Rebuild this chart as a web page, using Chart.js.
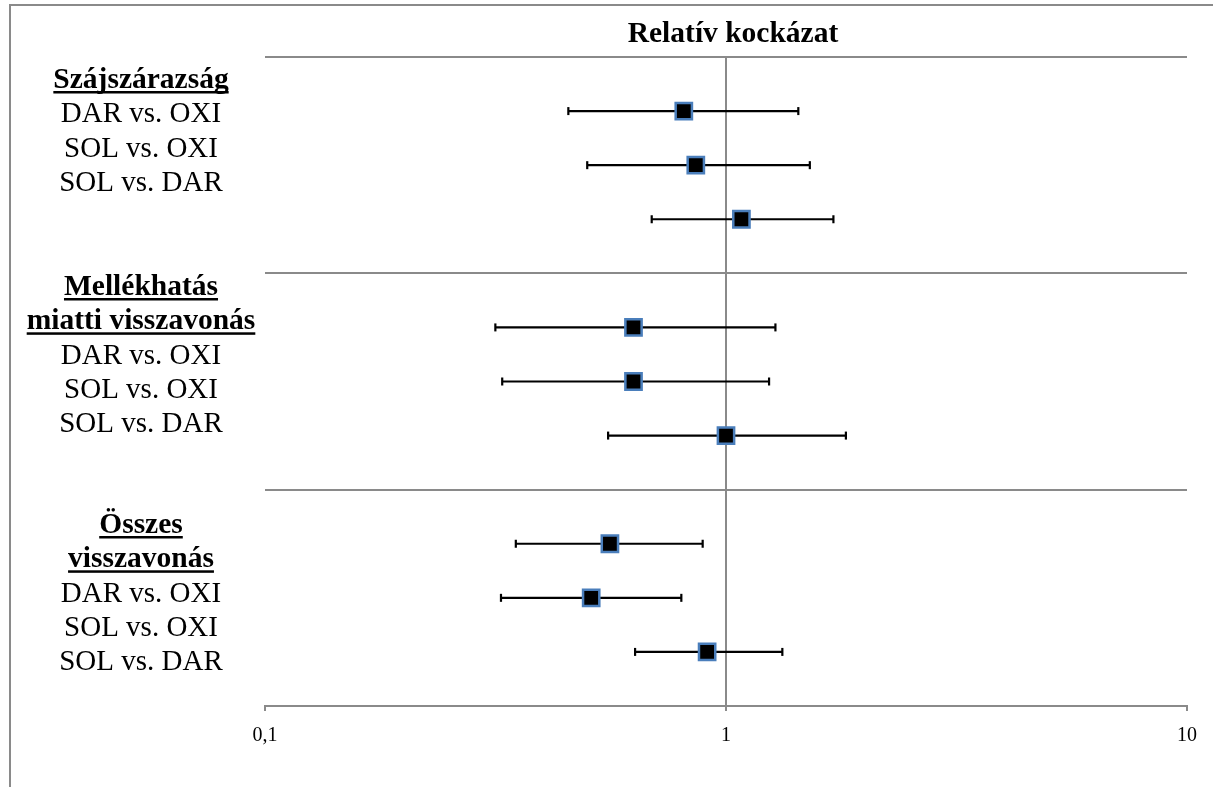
<!DOCTYPE html>
<html><head><meta charset="utf-8">
<script src="https://cdn.jsdelivr.net/npm/chart.js@4.4.1/dist/chart.umd.min.js"></script>
<style>html,body{margin:0;padding:0;background:#fff;} #wrap{position:relative;width:1213px;height:787px;}</style>
</head><body><div id="wrap"><canvas id="c" width="1213" height="787"></canvas></div>
<script>
const chartTitle = 'Relatív kockázat';
const groupTitles = [['Szájszárazság'], ['Mellékhatás', 'miatti visszavonás'], ['Összes', 'visszavonás']];
const comparisons = ['DAR vs. OXI', 'SOL vs. OXI', 'SOL vs. DAR'];
const rowPositions = [1, 2, 3, 5, 6, 7, 9, 10, 11];
const relativeRisk = [0.81, 0.86, 1.08, 0.63, 0.63, 1.00, 0.56, 0.51, 0.91];
const ciLower = [0.455, 0.50, 0.69, 0.316, 0.327, 0.555, 0.35, 0.325, 0.635];
const ciUpper = [1.435, 1.52, 1.71, 1.28, 1.24, 1.82, 0.89, 0.80, 1.325];
const xTickValues = [0.1, 1, 10];
const xTickLabels = ['0,1', '1', '10'];
const groupSeparators = [0, 4, 8, 12];

const GRAY = '#8a8a8a';
const SERIF = "'Liberation Serif', 'Times New Roman', serif";

const datasets = [{
  type: 'scatter',
  data: relativeRisk.map((v, i) => ({x: v, y: rowPositions[i]})),
  pointStyle: 'rect',
  pointRadius: 11.5,
  pointHoverRadius: 11.5,
  backgroundColor: '#000',
  borderColor: '#4a7ebb',
  borderWidth: 2.5,
  order: 0
}];
rowPositions.forEach((y, i) => {
  datasets.push({
    type: 'scatter',
    showLine: true,
    data: [{x: ciLower[i], y: y}, {x: ciUpper[i], y: y}],
    borderColor: '#000',
    borderWidth: 2.2,
    pointStyle: 'line',
    pointRotation: 90,
    pointRadius: 4,
    pointHoverRadius: 4,
    pointBorderColor: '#000',
    pointBorderWidth: 2.2,
    order: 1
  });
});

const decor = {
  id: 'decor',
  beforeDraw(chart) {
    const ctx = chart.ctx;
    ctx.save();
    ctx.fillStyle = '#fff';
    ctx.fillRect(0, 0, chart.width, chart.height);
    ctx.strokeStyle = GRAY;
    ctx.lineWidth = 2;
    ctx.strokeRect(10, 5, 1400, 1000);
    ctx.restore();
  },
  afterDraw(chart) {
    const ctx = chart.ctx;
    const a = chart.chartArea;
    ctx.save();
    ctx.fillStyle = '#000';
    ctx.textAlign = 'center';
    ctx.textBaseline = 'alphabetic';
    ctx.font = 'bold 29.5px ' + SERIF;
    ctx.fillText(chartTitle, (a.left + a.right) / 2 + 7, a.top - 15.5);
    const cx = 141;
    const starts = [a.top + 31, a.top + 238, a.top + 476];
    const step = 34.3;
    groupTitles.forEach((lines, g) => {
      let y = starts[g];
      lines.forEach(t => {
        ctx.font = 'bold 29.5px ' + SERIF;
        ctx.fillText(t, cx, y);
        const w = ctx.measureText(t).width;
        ctx.fillRect(cx - w / 2, y + 3, w, 2.5);
        y += step;
      });
      comparisons.forEach(t => {
        ctx.font = '29px ' + SERIF;
        ctx.fillText(t, cx, y);
        y += step;
      });
    });
    ctx.restore();
  }
};

new Chart(document.getElementById('c'), {
  data: {datasets: datasets},
  options: {
    responsive: false,
    animation: false,
    events: [],
    layout: {padding: {left: 0, right: 26, top: 57, bottom: 0}},
    plugins: {legend: {display: false}, tooltip: {enabled: false}, title: {display: false}},
    scales: {
      x: {
        type: 'logarithmic',
        min: 0.1,
        max: 10,
        afterBuildTicks: s => { s.ticks = xTickValues.map(v => ({value: v, major: true})); },
        afterFit: s => { s.height = 81; },
        ticks: {
          callback: (v, i) => xTickLabels[i],
          font: {family: SERIF, size: 20},
          color: '#000',
          padding: 13,
          maxRotation: 0,
          autoSkip: false
        },
        grid: {
          color: c => (c.tick && c.tick.value === 1) ? GRAY : 'rgba(0,0,0,0)',
          lineWidth: 2,
          tickColor: GRAY,
          tickLength: 5,
          drawOnChartArea: true
        },
        border: {display: true, color: GRAY, width: 2}
      },
      y: {
        type: 'linear',
        min: 0,
        max: 12,
        reverse: true,
        afterBuildTicks: s => { s.ticks = groupSeparators.map(v => ({value: v})); },
        afterFit: s => { s.width = 265; },
        ticks: {display: false},
        grid: {color: GRAY, lineWidth: 2, drawTicks: false},
        border: {display: false}
      }
    }
  },
  plugins: [decor]
});
</script>
</body></html>
